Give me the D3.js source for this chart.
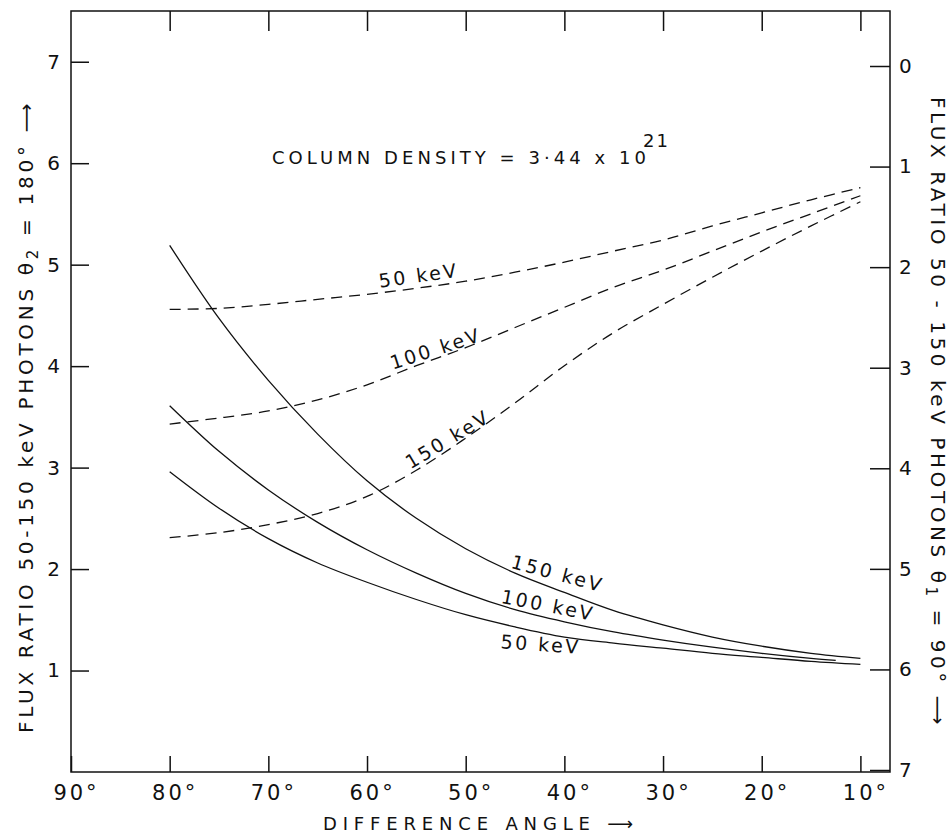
<!DOCTYPE html>
<html><head><meta charset="utf-8">
<script src="https://cdn.jsdelivr.net/npm/d3@7"></script>
<style>
body{margin:0;background:#fff}
svg{display:block}
text{font-family:"DejaVu Sans",sans-serif;fill:#111}
</style>
</head><body>
<svg id="c" width="949" height="834"></svg>
<script>
// ---- data ----
const xTicks = [90, 80, 70, 60, 50, 40, 30, 20, 10];
const leftTicks = [1, 2, 3, 4, 5, 6, 7];
const rightTicks = [0, 1, 2, 3, 4, 5, 6, 7];

const angles = [80, 75, 70, 65, 60, 55, 50, 45, 40, 35, 30, 25, 20, 15, 10];
const angles100 = [80, 75, 70, 65, 60, 55, 50, 45, 40, 35, 30, 25, 20, 15, 12.5];

// solid curves (left axis, theta2 = 180 deg)
const solid150 = [5.19, 4.47, 3.86, 3.33, 2.87, 2.50, 2.20, 1.96, 1.77, 1.59, 1.45, 1.33, 1.24, 1.17, 1.12];
const solid100 = [3.61, 3.16, 2.78, 2.46, 2.19, 1.96, 1.76, 1.60, 1.48, 1.38, 1.30, 1.23, 1.17, 1.12, 1.10];
const solid50  = [2.96, 2.60, 2.30, 2.06, 1.87, 1.70, 1.55, 1.43, 1.33, 1.27, 1.22, 1.17, 1.13, 1.09, 1.06];

// dashed curves (right axis, theta1 = 90 deg)
const dashed50  = [2.42, 2.41, 2.37, 2.32, 2.27, 2.21, 2.14, 2.05, 1.95, 1.84, 1.73, 1.59, 1.46, 1.33, 1.21];
const dashed100 = [3.56, 3.50, 3.43, 3.32, 3.17, 2.98, 2.80, 2.60, 2.40, 2.20, 2.03, 1.84, 1.65, 1.47, 1.29];
const dashed150 = [4.69, 4.64, 4.56, 4.45, 4.28, 4.02, 3.70, 3.35, 2.98, 2.65, 2.37, 2.10, 1.84, 1.59, 1.35];

// ---- layout ----
const svg = d3.select("#c");
const L = 71, R = 890, T = 11, B = 772;
const x = d3.scaleLinear().domain([90, 7]).range([L, R]);
const yL = d3.scaleLinear().domain([0, 7.5]).range([B, T]);
const yR = d3.scaleLinear().domain([0, 7]).range([66, 770]);

svg.append("rect").attr("x", L).attr("y", T).attr("width", R - L).attr("height", B - T)
  .attr("fill", "none").attr("stroke", "#111").attr("stroke-width", 1.5);

function styleAxis(g, fs) {
  g.select(".domain").remove();
  g.selectAll(".tick line").attr("stroke", "#111").attr("stroke-width", 1.5);
  g.selectAll(".tick text").attr("font-size", fs).attr("fill", "#111")
    .attr("font-family", "DejaVu Sans").attr("letter-spacing", 3);
}

svg.append("g").attr("transform", `translate(0,${B})`)
  .call(d3.axisBottom(x).tickValues(xTicks).tickSize(-16).tickPadding(13).tickFormat(d => d + "°"))
  .call(g => styleAxis(g, 21))
  .call(g => g.selectAll(".tick text").attr("dx", 5));

svg.append("g").attr("transform", `translate(0,${T})`)
  .call(d3.axisTop(x).tickValues(xTicks.slice(1)).tickSize(-20).tickFormat(""))
  .call(g => styleAxis(g, 21));

svg.append("g").attr("transform", `translate(${L},0)`)
  .call(d3.axisLeft(yL).tickValues(leftTicks).tickSize(-18).tickPadding(8).tickFormat(d3.format("d")))
  .call(g => styleAxis(g, 20));

svg.append("g").attr("transform", `translate(${R},0)`)
  .call(d3.axisRight(yR).tickValues(rightTicks).tickSize(-20).tickPadding(9).tickFormat(d3.format("d")))
  .call(g => styleAxis(g, 20));

// ---- curves ----
const series = [
  {a: angles, v: solid150, y: yL, dash: null},
  {a: angles100, v: solid100, y: yL, dash: null},
  {a: angles, v: solid50, y: yL, dash: null},
  {a: angles, v: dashed50, y: yR, dash: "11,7"},
  {a: angles, v: dashed100, y: yR, dash: "11,7"},
  {a: angles, v: dashed150, y: yR, dash: "11,7"}
];
series.forEach(s => {
  const pts = s.a.map((a, i) => [a, s.v[i]]);
  const line = d3.line().x(d => x(d[0])).y(d => s.y(d[1])).curve(d3.curveCatmullRom.alpha(0.5));
  svg.append("path").attr("d", line(pts)).attr("fill", "none")
    .attr("stroke", "#111").attr("stroke-width", 1.3)
    .attr("stroke-dasharray", s.dash);
});

function valAt(s, a) {
  for (let i = 0; i < s.a.length - 1; i++) {
    const a0 = s.a[i], a1 = s.a[i + 1];
    if (a <= a0 && a >= a1) {
      const t = (a0 - a) / (a0 - a1);
      return s.v[i] + t * (s.v[i + 1] - s.v[i]);
    }
  }
  return s.v[s.v.length - 1];
}

// curve labels: series index, text, angle where the label starts, offset, rotation
const curveLabels = [
  {s: 3, t: "50 keV", a: 58.7, dy: -5, rot: -8},
  {s: 4, t: "100 keV", a: 57.4, dy: -5, rot: -18},
  {s: 5, t: "150 keV", a: 55.6, dy: -4, rot: -31},
  {s: 0, t: "150 keV", a: 45.5, dy: -3, rot: 15},
  {s: 1, t: "100 keV", a: 46.5, dy: -2, rot: 11},
  {s: 2, t: "50 keV", a: 46.5, dy: 25, rot: 4}
];
curveLabels.forEach(c => {
  const s = series[c.s];
  const px = x(c.a), py = s.y(valAt(s, c.a)) + c.dy;
  svg.append("text").attr("transform", `translate(${px},${py}) rotate(${c.rot})`)
    .attr("font-size", 19).attr("letter-spacing", 2.5).text(c.t);
});

function fit(sel, target) {
  const n = sel.node();
  const len = n.getComputedTextLength();
  const chars = n.textContent.length;
  sel.attr("letter-spacing", (target - len) / chars);
}

// title
const title = svg.append("text").attr("x", 272).attr("y", 164).attr("font-size", 18)
  .text("COLUMN DENSITY = 3·44 x 10");
fit(title, 378);
svg.append("text").attr("x", 643).attr("y", 147).attr("font-size", 18).attr("letter-spacing", 2).text("21");

// x axis title
const xt = svg.append("text").attr("x", 323).attr("y", 830).attr("font-size", 18)
  .text("DIFFERENCE ANGLE ⟶");
fit(xt, 316);

// left axis title
const lt = svg.append("text").attr("transform", "translate(33,733) rotate(-90)").attr("font-size", 20);
lt.append("tspan").text("FLUX RATIO 50-150 keV PHOTONS θ");
lt.append("tspan").attr("dy", 5).attr("font-size", 15).text("2");
lt.append("tspan").attr("dy", -5).text(" = 180° ⟶");
fit(lt, 633);

// right axis title
const rt = svg.append("text").attr("transform", "translate(931,97) rotate(90)").attr("font-size", 20);
rt.append("tspan").text("FLUX RATIO 50 - 150 keV PHOTONS θ");
rt.append("tspan").attr("dy", 5).attr("font-size", 15).text("1");
rt.append("tspan").attr("dy", -5).text(" = 90° ⟶");
fit(rt, 631);
</script>
</body></html>
